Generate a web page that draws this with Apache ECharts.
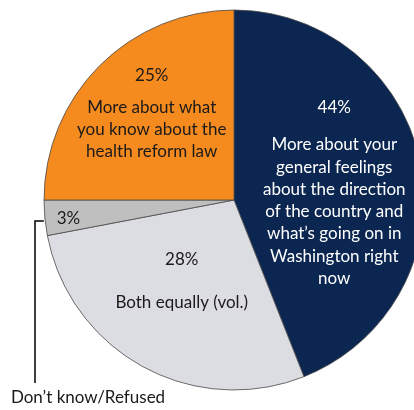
<!DOCTYPE html>
<html><head><meta charset="utf-8">
<script src="https://cdn.jsdelivr.net/npm/echarts@6/dist/echarts.min.js"></script>
<style>html,body{margin:0;padding:0;background:#fff}#c{width:414px;height:410px}</style>
</head><body><div id="c"></div>
<script>
const categories = [
  "More about your general feelings about the direction of the country and what’s going on in Washington right now",
  "Both equally (vol.)",
  "Don’t know/Refused",
  "More about what you know about the health reform law"
];
const values = [44, 28, 3, 25];
const labelLines = [
  ["More about your","general feelings","about the direction","of the country and","what’s going on in","Washington right","now"],
  ["Both equally (vol.)"],
  [],
  ["More about what","you know about the","health reform law"]
];
const colors = ["#0B2650", "#DCDCE3", "#BFBFBF", "#F58A1F"];
const pStyles = ["p0", "p1", "p2", "p3"];
const offsets = [[4, 4], [-5, -15], [-68, 9], [-13, -22]];
const FONT = "Lato, 'Open Sans', sans-serif";

const chart = echarts.init(document.getElementById('c'), null, {renderer: 'canvas'});
const rich = {
  p0: {fontSize: 17, lineHeight: 52, color: "#ffffff", fontFamily: FONT},
  p1: {fontSize: 17, lineHeight: 64, color: "#1a1a1a", fontFamily: FONT},
  p2: {fontSize: 17, lineHeight: 22, color: "#1a1a1a", fontFamily: FONT},
  p3: {fontSize: 17, lineHeight: 42, color: "#1a1a1a", fontFamily: FONT},
  tw: {fontSize: 17, lineHeight: 22.3, color: "#ffffff", fontFamily: FONT},
  tb: {fontSize: 17, lineHeight: 22.3, color: "#1a1a1a", fontFamily: FONT}
};
const data = values.map((v, i) => ({
  name: categories[i], value: v,
  itemStyle: {color: colors[i]}
}));
chart.setOption({
  animation: false,
  series: [{
    type: 'pie',
    center: [234, 200],
    radius: [0, 190],
    startAngle: 90,
    clockwise: true,
    data: data,
    itemStyle: {borderColor: '#4a4a4a', borderWidth: 0.8},
    label: {
      show: true,
      position: 'inside',
      align: 'center',
      formatter: function (p) {
        const i = p.dataIndex;
        let s = '{' + pStyles[i] + '|' + p.value + '%}';
        const st = i === 0 ? 'tw' : 'tb';
        labelLines[i].forEach(l => { s += '\n{' + st + '|' + l + '}'; });
        return s;
      },
      rich: rich
    },
    labelLine: {show: false},
    labelLayout: function (p) {
      const o = offsets[p.dataIndex];
      return {dx: o[0], dy: o[1]};
    }
  }, {
    type: 'pie',
    center: [234, 200],
    radius: [0, 190],
    startAngle: 90,
    clockwise: true,
    silent: true,
    data: values.map((v, i) => ({
      name: categories[i], value: v,
      itemStyle: {color: 'rgba(0,0,0,0)', borderWidth: 0},
      label: {show: i === 2},
      labelLine: {show: i === 2}
    })),
    label: {
      position: 'outside',
      formatter: '{b}',
      overflow: 'none',
      width: 200,
      fontSize: 17, color: '#1a1a1a', fontFamily: FONT
    },
    labelLine: {show: true, length: 5, length2: 5, lineStyle: {color: '#000', width: 1.5}},
    labelLayout: function (p) {
      if (p.dataIndex !== 2) return {};
      const start = p.labelLinePoints ? p.labelLinePoints[0] : [44, 220];
      const lx = 35;
      return {
        x: 88, y: 398, align: 'center', verticalAlign: 'middle',
        labelLinePoints: [[start[0] - 1, start[1] + 3], [lx, start[1] + 3], [lx, 383]]
      };
    }
  }]
});
</script>
</body></html>
